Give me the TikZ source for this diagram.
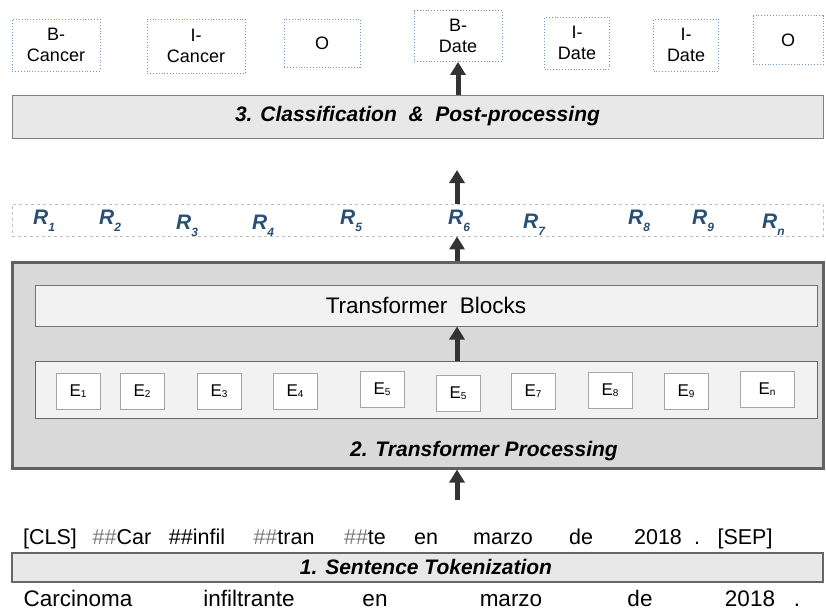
\documentclass[tikz,border=0pt]{standalone}
\usepackage{fontspec}
\setmainfont{Liberation Sans}
\usepackage{tikz}
\usetikzlibrary{arrows.meta}
\definecolor{tagblue}{HTML}{7197C9}
\definecolor{rblue}{HTML}{294F74}
\definecolor{arrowgray}{HTML}{333333}
\definecolor{hashgray}{HTML}{7A7A7A}

\newcommand{\rsub}[1]{\raisebox{-7pt}{\fontsize{12}{12}\selectfont #1}}
\newcommand{\esub}[1]{\raisebox{-1pt}{\fontsize{10}{10}\selectfont #1}}

\begin{document}
\begin{tikzpicture}[x=1pt,y=-1pt,
  tag/.style={draw=tagblue,dotted,line width=0.9pt,fill=white,align=center,inner sep=0pt,
    font=\fontsize{18}{21}\selectfont},
  bar/.style={draw=gray!80!black,fill=black!9,inner sep=0pt,line width=1.2pt,
    font=\fontsize{21}{24}\bfseries\itshape},
  rl/.style={anchor=base west,inner sep=0pt,text=rblue,font=\fontsize{21}{24}\bfseries\itshape},
  ebox/.style={draw=black!35,fill=white,inner sep=0pt,minimum width=44,minimum height=36,
    font=\fontsize{17}{20}\selectfont},
  tok/.style={anchor=base,inner sep=0pt,font=\fontsize{21.5}{24}\selectfont},
  word/.style={anchor=base,inner sep=0pt,font=\fontsize{22.5}{26}\selectfont},
  up/.style={-{Triangle[width=15pt,length=13pt]},line width=5pt,draw=arrowgray}]
        \useasboundingbox (0,0) rectangle (826,611);
        % output tags
        \node[tag,minimum width=88,minimum height=52] (L1) at (56,45) {B-\\Cancer};
        \node[tag,minimum width=98,minimum height=54] (L2) at (196,46) {I-\\Cancer};
        \node[tag,minimum width=76,minimum height=48] (L3) at (322,43) {O};
        \node[tag,minimum width=88,minimum height=51] (L4) at (458,36) {B-\\Date};
        \node[tag,minimum width=65,minimum height=52] (L5) at (577,43) {I-\\Date};
        \node[tag,minimum width=65,minimum height=52] (L6) at (686,45) {I-\\Date};
        \node[tag,minimum width=70,minimum height=49] (L7) at (788,40) {O};
        % 3. classification
        \node[bar,fill=black!9,draw=gray,line width=1pt,minimum width=811,minimum height=43] (cls) at (417.5,116.5)
          {3. Classification\ \ \&\ \ Post-processing};
        \coordinate (top) at (457,170);
        % contextual representations
        \node[draw=black!25,dashed,line width=0.9pt,minimum width=811,minimum height=32,inner sep=0pt] (rrow) at (417.5,220) {};
        \node[rl] (R1) at (33,224) {R\rsub{1}};
        \node[rl] (R2) at (99,224) {R\rsub{2}};
        \node[rl] (R3) at (176,229) {R\rsub{3}};
        \node[rl] (R4) at (252,229) {R\rsub{4}};
        \node[rl] (R5) at (340,224) {R\rsub{5}};
        \node[rl] (R6) at (448,224) {R\rsub{6}};
        \node[rl] (R7) at (523,228) {R\rsub{7}};
        \node[rl] (R8) at (628,224) {R\rsub{8}};
        \node[rl] (R9) at (692,224) {R\rsub{9}};
        \node[rl] (Rn) at (762,228) {R\rsub{n}};
        % 2. transformer processing
        \node[draw=black!62,fill=black!15,line width=3pt,minimum width=811,minimum height=206,inner sep=0pt] (proc) at (417.5,365) {};
        \node[draw=black!55,fill=black!5,line width=1pt,minimum width=782,minimum height=41,inner sep=0pt,
          font=\fontsize{22.5}{26}\selectfont] (blocks) at (426,305.5) {Transformer\ \ Blocks};
        \node[draw=black!60,fill=black!5,line width=1pt,minimum width=782,minimum height=57,inner sep=0pt] (emb) at (426,389.5) {};
        \node[ebox] (E1) at (78,391) {E\esub{1}};
        \node[ebox] (E2) at (142,391) {E\esub{2}};
        \node[ebox] (E3) at (219,391) {E\esub{3}};
        \node[ebox] (E4) at (295,391) {E\esub{4}};
        \node[ebox] (E5) at (382,389) {E\esub{5}};
        \node[ebox] (E6) at (458,393) {E\esub{5}};
        \node[ebox] (E7) at (533,391) {E\esub{7}};
        \node[ebox] (E8) at (610,390) {E\esub{8}};
        \node[ebox] (E9) at (686,391) {E\esub{9}};
        \node[ebox,minimum width=54] (En) at (767,389) {E\esub{n}};
        \node[inner sep=0pt,font=\fontsize{21}{24}\bfseries\itshape] (ptitle) at (484,451) {2. Transformer Processing};
        \coordinate (bot) at (457,500);
        % 1. tokenization
        \node[tok] (T1) at (50,544) {[CLS]};
        \node[tok] (T2) at (122,544) {\textcolor{hashgray}{\#\#}Car};
        \node[tok] (T3) at (197,544) {\#\#infil};
        \node[tok] (T4) at (284,544) {\textcolor{hashgray}{\#\#}tran};
        \node[tok] (T5) at (365,544) {\textcolor{hashgray}{\#\#}te};
        \node[tok] (T6) at (426,544) {en};
        \node[tok] (T7) at (503,544) {marzo};
        \node[tok] (T8) at (581,544) {de};
        \node[tok] (T9) at (658,544) {2018};
        \node[tok] (T10) at (697,544) {.};
        \node[tok] (T11) at (745,544) {[SEP]};
        \node[bar,minimum width=811,minimum height=29] (tokbar) at (417.5,567.5) {};
        \node[inner sep=0pt,font=\fontsize{21}{24}\bfseries\itshape] (ttitle) at (426,567) {1. Sentence Tokenization};
        \node[word] (W1) at (78,606) {Carcinoma};
        \node[word] (W2) at (249,606) {infiltrante};
        \node[word] (W3) at (375,606) {en};
        \node[word] (W4) at (511,606) {marzo};
        \node[word] (W5) at (640,606) {de};
        \node[word] (W6) at (750,606) {2018};
        \node[word] (W7) at (797,606) {.};
        \draw
        (L4.south |- cls.north) edge[up] (L4.south)
        (rrow.north -| top) edge[up] (top)
        (proc.north -| top) edge[up] (rrow.south -| top)
        (emb.north -| top) edge[up] (blocks.south -| top)
        (bot) edge[up] (proc.south -| bot)
        ;
      \end{tikzpicture}
\end{document}
